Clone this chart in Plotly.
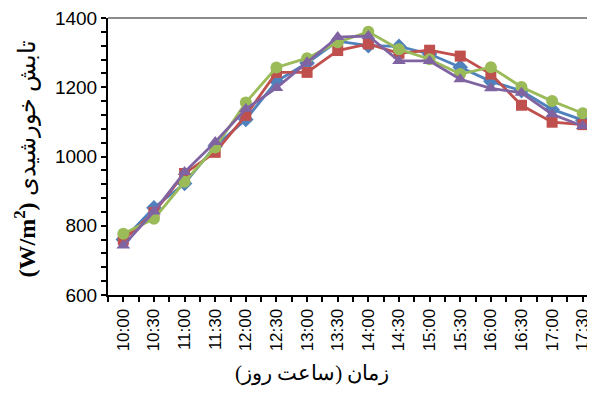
import plotly.graph_objects as go

times = ["10:00", "10:30", "11:00", "11:30", "12:00", "12:30", "13:00", "13:30",
         "14:00", "14:30", "15:00", "15:30", "16:00", "16:30", "17:00", "17:30"]
blue = [760, 852, 922, 1030, 1107, 1217, 1270, 1333, 1320, 1318, 1296, 1258, 1217, 1190, 1136, 1105]
red = [760, 838, 951, 1012, 1119, 1243, 1243, 1306, 1325, 1298, 1307, 1290, 1238, 1148, 1099, 1092]
green = [777, 820, 927, 1026, 1156, 1257, 1284, 1330, 1360, 1310, 1281, 1238, 1258, 1201, 1160, 1125]
purple = [743, 841, 955, 1042, 1137, 1198, 1272, 1345, 1348, 1276, 1276, 1223, 1197, 1184, 1122, 1088]

x_title = "زمان (ساعت روز)\u200f"
y_title = "<b>(W/m<sup>2</sup>)</b> تابش خورشیدی"

xs = list(range(len(times)))

series = [
    (blue, "#4F81BD", "diamond", 12),
    (red, "#C0504D", "square", 11),
    (green, "#9BBB59", "circle", 12),
    (purple, "#8064A2", "triangle-up", 12),
]

fig = go.Figure()
for vals, col, sym, sz in series:
    fig.add_trace(go.Scatter(
        x=xs, y=vals, mode="lines+markers",
        line=dict(color=col, width=2.8),
        marker=dict(symbol=sym, size=sz, color=col),
        showlegend=False,
    ))

fig.update_layout(
    width=587, height=393,
    margin=dict(l=100, r=0, t=10, b=106, autoexpand=False),
    paper_bgcolor="white", plot_bgcolor="white",
    font=dict(family="Liberation Sans, Arial", color="black"),
    shapes=[dict(type="line", xref="paper", yref="paper", x0=0, x1=1, y0=1, y1=1,
                 line=dict(color="#8c8c8c", width=2))],
    annotations=[
        dict(text=x_title, xref="paper", yref="paper", x=0.419, y=-0.285,
             xanchor="center", yanchor="middle", showarrow=False,
             font=dict(size=21, family="Liberation Serif, DejaVu Serif")),
        dict(text=y_title, xref="paper", yref="paper", x=-0.17, y=0.49,
             xanchor="center", yanchor="middle", showarrow=False, textangle=-90,
             font=dict(size=24, family="Liberation Serif, DejaVu Serif")),
    ],
)

fig.update_xaxes(
    range=[-0.5, 15.4], automargin=False,
    tickmode="array", tickvals=xs, ticktext=times, tickangle=-90,
    tickfont=dict(size=17),
    ticks="outside", ticklen=5, tickwidth=2, tickcolor="black",
    minor=dict(tickmode="linear", tick0=-0.5, dtick=1, ticks="outside", ticklen=5,
               tickwidth=2, tickcolor="black"),
    showline=True, linecolor="black", linewidth=2,
    showgrid=False, zeroline=False, ticklabeloverflow="allow",
)

fig.update_yaxes(
    range=[600, 1400], dtick=200, automargin=False,
    tickfont=dict(size=19),
    ticks="outside", ticklen=5, tickwidth=2, tickcolor="black",
    minor=dict(dtick=40, ticks="outside", ticklen=5, tickwidth=2, tickcolor="black"),
    showline=True, linecolor="black", linewidth=2,
    showgrid=False, zeroline=False, ticklabeloverflow="allow",
)

fig.write_html("out.html")
